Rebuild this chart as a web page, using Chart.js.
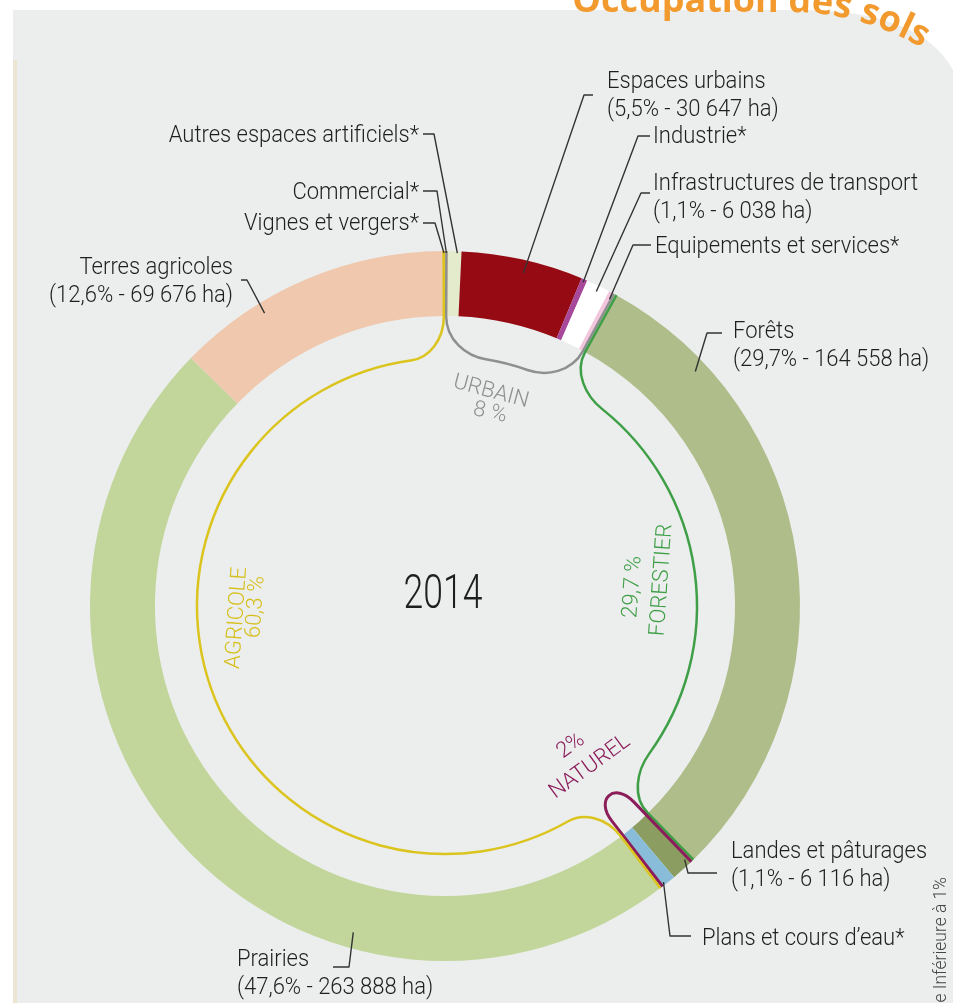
<!DOCTYPE html>
<html lang="fr">
<head>
<meta charset="utf-8">
<title>Occupation des sols 2014</title>
<script src="https://cdn.jsdelivr.net/npm/chart.js@4.4.1/dist/chart.umd.min.js"></script>
<style>
  html, body { margin: 0; padding: 0; background: #fff; }
  canvas { display: block; }
</style>
</head>
<body>
<canvas id="sols" width="953" height="1003"></canvas>
<script>
// clockwise from the top
const categories = ['Commercial*', 'Autres espaces artificiels*', 'Espaces urbains', 'Industrie*',
  'Infrastructures de transport', 'Equipements et services*', 'Forêts', 'Landes et pâturages',
  'Plans et cours d’eau*', 'Prairies', 'Terres agricoles', 'Vignes et vergers*'];
const hectares = [700, 3400, 30647, 1500, 6038, 1700, 164558, 6116, 4000, 263888, 69676, 500];
const percents = [null, null, '5,5', null, '1,1', null, '29,7', '1,1', null, '47,6', '12,6', null];

const groupNames = ['URBAIN', 'FORESTIER', 'NATUREL', 'AGRICOLE'];
const groupShares = ['8 %', '29,7 %', '2%', '60,3 %'];
const groupFirst = [0, 6, 7, 9];
const groupLast = [5, 6, 8, 11];

const year = '2014';
const title = 'Occupation des sols';
const footnote = '*Surface Inférieure à 1%';

const colors = ['#f0b66a', '#e4ebcc', '#960b13', '#a8489a', '#ffffff', '#f3c6de',
  '#afbd8a', '#8b9d61', '#88bcd9', '#c2d69c', '#efc8ae', '#e3c62a'];

const LABEL_FONT = '300 24px Roboto, "DejaVu Sans", sans-serif';
const INK = '#1f1f1f';

// where each category's label sits and how its leader reaches the ring
const labelSpots = [
  {x: 419, y: 199, align: 'right', lead: [[423, 191], [437, 191]], frac: 0.5, inset: 2},
  {x: 419, y: 142, align: 'right', lead: [[423, 134], [434, 134]], frac: 0.7, inset: 2},
  {x: 607, y: 88, lead: [[593, 95], [584, 95]], frac: 0.53, inset: 13},
  {x: 653, y: 143, lead: [[650, 136], [638, 136]], frac: 0.5, inset: 3},
  {x: 653, y: 190, lead: [[650, 193], [641, 193]], frac: 0.53, inset: 6},
  {x: 655, y: 253, lead: [[651, 245], [633, 245]], frac: 0.6, inset: 7},
  {x: 733, y: 338, lead: [[722, 333], [707, 333]], frac: 0.17, inset: 12},
  {x: 731, y: 858, lead: [[717, 873], [688, 873]], frac: 0.2, inset: 6},
  {x: 702, y: 945, lead: [[691, 936], [670, 936]], frac: 0.7, inset: 3},
  {x: 237, y: 966, lead: [[333, 967], [349, 967]], frac: 0.31, inset: 16},
  {x: 233, y: 274, align: 'right', lead: [[241, 280], [247, 280]], frac: 0.31, inset: 11},
  {x: 419, y: 230, align: 'right', lead: [[423, 223], [435, 223]], frac: 0.5, inset: 2}
];

// group brackets drawn inside the ring, and their captions (offsets from the centre, degrees)
const groupStyles = [
  {color: '#8e9090', ink: '#8e9090', width: 2.5, rg: 250, d: 0.16, name: [46, -214, 15], share: [45, -193, 12]},
  {color: '#3f9f47', ink: '#3f9f47', width: 2.5, rg: 252, d: 0.17, name: [217, -26, -86], share: [188, -19, -86]},
  {color: '#8b1d5b', ink: '#8b1d5b', width: 3, rg: 244, loop: 272, name: [145, 161, -36], share: [126, 140, -36]},
  {color: '#dcc41e', ink: '#d6bf1c', width: 2.5, rg: 248, d: 0.13, name: [-208, 12, -86], share: [-189, 1, -86]}
];

function fmtHa(n) {
  return String(n).replace(/\B(?=(\d{3})+(?!\d))/g, ' ');
}

function pt(cx, cy, r, a) {
  return [cx + r * Math.cos(a), cy + r * Math.sin(a)];
}

// the original lettering is a narrow face; squeeze a regular one to fit
function squeezed(ctx, text, x, y, sx) {
  ctx.save();
  ctx.translate(x, y);
  ctx.scale(sx, 1);
  ctx.fillText(text, 0, 0);
  ctx.restore();
}

function drawBracket(ctx, c, a1, a2, g) {
  const {cx, cy, R, r} = c;
  a1 += 0.004;
  a2 -= 0.004;
  ctx.beginPath();
  ctx.moveTo(...pt(cx, cy, R, a1));
  ctx.lineTo(...pt(cx, cy, r, a1));
  if (g.loop) {
    ctx.lineTo(...pt(cx, cy, g.loop, a1));
    ctx.bezierCurveTo(...pt(cx, cy, g.rg, a1), ...pt(cx, cy, g.rg, a2), ...pt(cx, cy, g.loop, a2));
  } else {
    const s = a1 + g.d;
    const t = a2 - g.d;
    const L = g.rg * g.d * 0.5;
    const e1 = pt(cx, cy, g.rg, s);
    const b = pt(cx, cy, g.rg, t);
    ctx.bezierCurveTo(...pt(cx, cy, r - (r - g.rg) * 0.6, a1),
      e1[0] + L * Math.sin(s), e1[1] - L * Math.cos(s), ...e1);
    ctx.arc(cx, cy, g.rg, s, t);
    ctx.bezierCurveTo(b[0] - L * Math.sin(t), b[1] + L * Math.cos(t),
      ...pt(cx, cy, r - (r - g.rg) * 0.6, a2), ...pt(cx, cy, r, a2));
  }
  ctx.lineTo(...pt(cx, cy, R, a2));
  ctx.strokeStyle = g.color;
  ctx.lineWidth = g.width;
  ctx.lineJoin = 'round';
  ctx.stroke();
}

function drawTitle(ctx) {
  // straight baseline, then bending down along the panel corner
  const x0 = 790, y0 = 12, R = 260;
  ctx.save();
  ctx.font = 'bold 36px "Open Sans", sans-serif';
  ctx.fillStyle = '#f29a2e';
  ctx.textAlign = 'center';
  ctx.textBaseline = 'alphabetic';
  const sEnd = R * Math.asin((922 - x0) / R);
  let s = sEnd - ctx.measureText(title).width;
  for (const ch of title) {
    const w = ctx.measureText(ch).width;
    const m = s + w / 2;
    let x, y, rot;
    if (m < 0) { x = x0 + m; y = y0; rot = 0; }
    else { rot = m / R; x = x0 + R * Math.sin(rot); y = y0 + R - R * Math.cos(rot); }
    ctx.save();
    ctx.translate(x, y);
    ctx.rotate(rot);
    ctx.fillText(ch, 0, 0);
    ctx.restore();
    s += w;
  }
  ctx.restore();
}

const panelPlugin = {
  id: 'panel',
  beforeDraw(chart) {
    const ctx = chart.ctx;
    ctx.save();
    ctx.fillStyle = '#ffffff';
    ctx.fillRect(0, 0, chart.width, chart.height);
    ctx.beginPath();
    ctx.moveTo(13, 10);
    ctx.lineTo(800, 10);
    ctx.quadraticCurveTo(920, 10, 953, 70);
    ctx.lineTo(953, 1003);
    ctx.lineTo(13, 1003);
    ctx.closePath();
    ctx.fillStyle = '#eceeed';
    ctx.fill();
    ctx.fillStyle = '#ece5d4';
    ctx.fillRect(13, 60, 4, 943);
    ctx.restore();
  }
};

const decorPlugin = {
  id: 'decor',
  afterDatasetsDraw(chart) {
    const ctx = chart.ctx;
    const arcs = chart.getDatasetMeta(0).data;
    const c = {cx: arcs[0].x, cy: arcs[0].y, R: arcs[0].outerRadius, r: arcs[0].innerRadius};
    ctx.save();

    // group brackets
    groupStyles.forEach((g, i) => {
      drawBracket(ctx, c, arcs[groupFirst[i]].startAngle, arcs[groupLast[i]].endAngle, g);
    });

    // leaders
    ctx.strokeStyle = '#333';
    ctx.lineWidth = 1.4;
    labelSpots.forEach((l, i) => {
      const a = arcs[i];
      const ang = a.startAngle + l.frac * (a.endAngle - a.startAngle);
      ctx.beginPath();
      ctx.moveTo(...l.lead[0]);
      l.lead.slice(1).forEach(p => ctx.lineTo(...p));
      ctx.lineTo(...pt(c.cx, c.cy, c.R - l.inset, ang));
      ctx.stroke();
    });

    // category labels
    ctx.font = LABEL_FONT;
    ctx.fillStyle = INK;
    ctx.textBaseline = 'alphabetic';
    const sx = 265 / ctx.measureText('Infrastructures de transport').width;
    categories.forEach((name, i) => {
      const l = labelSpots[i];
      ctx.textAlign = l.align || 'left';
      squeezed(ctx, name, l.x, l.y, sx);
      if (percents[i]) {
        squeezed(ctx, `(${percents[i]}% - ${fmtHa(hectares[i])} ha)`, l.x, l.y + 28, sx);
      }
    });

    // group captions
    ctx.font = '300 22px Roboto, "Liberation Sans", sans-serif';
    ctx.textAlign = 'center';
    ctx.textBaseline = 'middle';
    groupStyles.forEach((g, i) => {
      [[groupNames[i], g.name], [groupShares[i], g.share]].forEach(([txt, p]) => {
        ctx.save();
        ctx.translate(c.cx + p[0], c.cy + p[1]);
        ctx.rotate(p[2] * Math.PI / 180);
        ctx.fillStyle = g.ink;
        ctx.fillText(txt, 0, 0);
        ctx.restore();
      });
    });

    // year in the middle
    ctx.font = '300 49px Roboto, "DejaVu Sans", sans-serif';
    ctx.fillStyle = INK;
    squeezed(ctx, year, c.cx - 2, c.cy - 10, 79 / ctx.measureText(year).width);

    // footnote, running up the right edge
    ctx.save();
    ctx.translate(946, 877);
    ctx.rotate(-Math.PI / 2);
    ctx.font = '300 19px Roboto, "DejaVu Sans", sans-serif';
    ctx.fillStyle = '#444';
    ctx.textAlign = 'right';
    ctx.textBaseline = 'alphabetic';
    squeezed(ctx, footnote, 0, 0, sx);
    ctx.restore();

    drawTitle(ctx);
    ctx.restore();
  }
};

new Chart(document.getElementById('sols').getContext('2d'), {
  type: 'doughnut',
  data: {
    labels: categories,
    datasets: [{
      data: hectares,
      backgroundColor: colors,
      borderWidth: 0,
      hoverOffset: 0
    }]
  },
  options: {
    responsive: false,
    animation: false,
    events: [],
    cutout: '81.7%',
    layout: {padding: {left: 90, right: 153, top: 251, bottom: 42}},
    plugins: {legend: {display: false}, tooltip: {enabled: false}}
  },
  plugins: [panelPlugin, decorPlugin]
});
</script>
</body>
</html>
